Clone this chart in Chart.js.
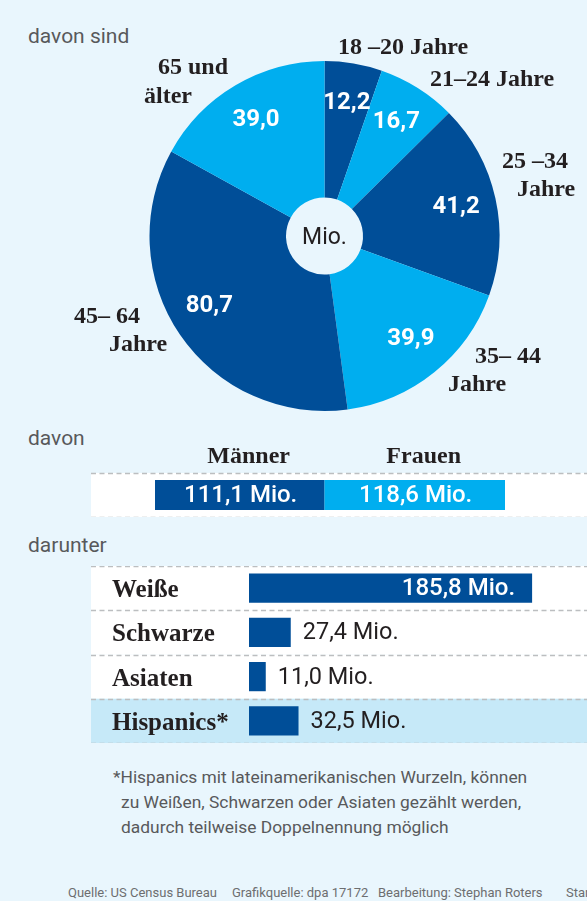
<!DOCTYPE html>
<html lang="de">
<head>
<meta charset="utf-8">
<title>US-Bevölkerung ab 18 Jahren</title>
<script src="https://cdn.jsdelivr.net/npm/chart.js@4.4.1/dist/chart.umd.min.js"></script>
<style>
  html, body { margin: 0; padding: 0; overflow: hidden; }
  body { width: 587px; height: 901px; background: #e9f6fd; position: relative; font-family: Roboto, sans-serif; }
  canvas { position: absolute; }
  .txt { position: absolute; white-space: nowrap; line-height: 1; color: #58595b; }
  .head { font-size: 21px; left: 28px; }
  .note { left: 113px; top: 765px; font-size: 17.4px; line-height: 25px; }
  .note span { display: block; }
  .note span + span { margin-left: 8px; }
  .src { top: 886px; font-size: 13px; color: #6d6e70; }
</style>
</head>
<body>
<div class="txt head" style="top:26px">davon sind</div>
<div class="txt head" style="top:428px">davon</div>
<div class="txt head" style="top:535px">darunter</div>

<canvas id="ageChart" width="587" height="420" style="left:0;top:0;width:587px;height:420px"></canvas>
<canvas id="genderChart" width="496" height="77" style="left:91px;top:440px;width:496px;height:77px"></canvas>
<canvas id="groupChart" width="508" height="177" style="left:91px;top:566px;width:508px;height:177px"></canvas>

<div class="txt note">
  <span>*Hispanics mit lateinamerikanischen Wurzeln, können</span>
  <span>zu Weißen, Schwarzen oder Asiaten gezählt werden,</span>
  <span>dadurch teilweise Doppelnennung möglich</span>
</div>
<div class="txt src" style="left:68px">Quelle: US Census Bureau</div>
<div class="txt src" style="left:232px">Grafikquelle: dpa 17172</div>
<div class="txt src" style="left:378px">Bearbeitung: Stephan Roters</div>
<div class="txt src" style="left:566px">Stand</div>

<script>
// Altersgruppen (Mio.), im Uhrzeigersinn ab 12 Uhr
const ageGroups = ['18 –20 Jahre', '21–24 Jahre', '25 –34\nJahre', '35– 44\nJahre', '45– 64\nJahre', '65 und\nälter'];
const ageValues = [12.2, 16.7, 41.2, 39.9, 80.7, 39.0];

// Geschlecht (Mio.)
const genderLabels = ['Männer', 'Frauen'];
const genderValues = [111.1, 118.6];

// Bevölkerungsgruppen (Mio.)
const groupLabels = ['Weiße', 'Schwarze', 'Asiaten', 'Hispanics*'];
const groupValues = [185.8, 27.4, 11.0, 32.5];

const DARK = '#004e98';
const LIGHT = '#00aeef';
const INK = '#231f20';
const SERIF = 'bold 24px "Liberation Serif", serif';

// where the outer age labels sit (per line: x, baseline)
const ageLabelPos = [
    [[338, 54]],
    [[430, 86]],
    [[502, 168], [517, 196]],
    [[475, 363], [448, 391]],
    [[74, 323], [109, 351]],
    [[158, 74], [144, 103]]
];
const valueAngleShift = [0, 0, 0, -1, 3, 0];

const fmt = v => v.toFixed(1).replace('.', ',');
const total = genderValues.reduce((a, b) => a + b, 0);

Chart.defaults.font.family = 'Roboto, sans-serif';

const pieLabels = {
    id: 'pieLabels',
    afterDatasetsDraw(chart) {
        const ctx = chart.ctx;
        const arcs = chart.getDatasetMeta(0).data;
        let cx = 0, cy = 0;
        ctx.save();
        arcs.forEach((arc, i) => {
            const p = arc.getProps(['x', 'y', 'startAngle', 'endAngle', 'outerRadius']);
            cx = p.x; cy = p.y;
            const mid = (p.startAngle + p.endAngle) / 2 + valueAngleShift[i] * Math.PI / 180;
            const r = p.outerRadius * 0.77;
            ctx.font = 'bold 24px Roboto';
            ctx.fillStyle = '#ffffff';
            ctx.textAlign = 'center';
            ctx.textBaseline = 'middle';
            ctx.fillText(fmt(ageValues[i]), p.x + Math.cos(mid) * r, p.y + Math.sin(mid) * r);

            ctx.font = SERIF;
            ctx.fillStyle = INK;
            ctx.textAlign = 'left';
            ctx.textBaseline = 'alphabetic';
            ageGroups[i].split('\n').forEach((line, k) => {
                ctx.fillText(line, ageLabelPos[i][k][0], ageLabelPos[i][k][1]);
            });
        });
        ctx.font = '23px Roboto';
        ctx.fillStyle = INK;
        ctx.textAlign = 'center';
        ctx.textBaseline = 'middle';
        ctx.fillText('Mio.', cx, cy + 2);
        ctx.restore();
    }
};

// white / tinted row bands with dashed separators
function bandPlugin(rowColors) {
    return {
        id: 'bands',
        beforeDatasetsDraw(chart) {
            const ctx = chart.ctx;
            const area = chart.chartArea;
            const n = chart.data.labels.length;
            const h = (area.bottom - area.top) / n;
            ctx.save();
            for (let i = 0; i < n; i++) {
                ctx.fillStyle = rowColors[i];
                ctx.fillRect(0, area.top + i * h, chart.width, h);
            }
            ctx.strokeStyle = '#bcbec0';
            ctx.lineWidth = 1.5;
            ctx.setLineDash([5, 3.5]);
            for (let i = 0; i <= n; i++) {
                const y = Math.round(area.top + i * h) + 0.5;
                ctx.beginPath();
                ctx.moveTo(0, y);
                ctx.lineTo(chart.width, y);
                ctx.stroke();
            }
            ctx.restore();
        }
    };
}

const genderText = {
    id: 'genderText',
    afterDatasetsDraw(chart) {
        const ctx = chart.ctx;
        ctx.save();
        chart.data.datasets.forEach((ds, i) => {
            const bar = chart.getDatasetMeta(i).data[0];
            const p = bar.getProps(['x', 'y', 'base']);
            const mid = (p.x + p.base) / 2;
            ctx.textAlign = 'center';
            ctx.font = '500 24px Roboto';
            ctx.fillStyle = '#ffffff';
            ctx.textBaseline = 'middle';
            ctx.fillText(fmt(ds.data[0]) + ' Mio.', mid + 1, p.y + 1);
            ctx.font = SERIF;
            ctx.fillStyle = INK;
            ctx.textBaseline = 'alphabetic';
            ctx.fillText(ds.label, mid + 9, 23);
        });
        ctx.restore();
    }
};

const groupText = {
    id: 'groupText',
    afterDatasetsDraw(chart) {
        const ctx = chart.ctx;
        const bars = chart.getDatasetMeta(0).data;
        ctx.save();
        bars.forEach((bar, i) => {
            const p = bar.getProps(['x', 'y', 'base']);
            ctx.font = 'bold 25px "Liberation Serif", serif';
            ctx.fillStyle = INK;
            ctx.textAlign = 'left';
            ctx.textBaseline = 'alphabetic';
            ctx.fillText(chart.data.labels[i], 21, p.y + 9);

            const txt = fmt(groupValues[i]) + ' Mio.';
            ctx.textBaseline = 'middle';
            ctx.font = '500 24px Roboto';
            const w = ctx.measureText(txt).width;
            if (p.x - p.base > w + 30) {
                ctx.fillStyle = '#ffffff';
                ctx.textAlign = 'right';
                ctx.fillText(txt, p.x - 17, p.y + 1);
            } else {
                ctx.font = '23.5px Roboto';
                ctx.fillStyle = INK;
                ctx.textAlign = 'left';
                ctx.fillText(txt, p.x + 12, p.y + 1);
            }
        });
        ctx.restore();
    }
};

const quiet = { legend: { display: false }, tooltip: { enabled: false } };

new Chart(document.getElementById('ageChart'), {
    type: 'doughnut',
    data: {
        labels: ageGroups,
        datasets: [{
            data: ageValues,
            backgroundColor: [DARK, LIGHT, DARK, LIGHT, DARK, LIGHT],
            borderWidth: 0,
            hoverOffset: 0
        }]
    },
    options: {
        responsive: false,
        animation: false,
        cutout: '22%',
        layout: { padding: { top: 61, left: 149.5, right: 87.5, bottom: 9 } },
        events: [],
        plugins: quiet
    },
    plugins: [pieLabels]
});

new Chart(document.getElementById('genderChart'), {
    type: 'bar',
    data: {
        labels: ['gesamt'],
        datasets: genderLabels.map((label, i) => ({
            label,
            data: [genderValues[i]],
            backgroundColor: [DARK, LIGHT][i],
            borderWidth: 0,
            barPercentage: 0.68,
            categoryPercentage: 1
        }))
    },
    options: {
        indexAxis: 'y',
        responsive: false,
        animation: false,
        events: [],
        layout: { padding: { top: 33, left: 64, right: 82, bottom: 0 } },
        scales: {
            x: { stacked: true, display: false, min: 0, max: total },
            y: { stacked: true, display: false }
        },
        plugins: quiet
    },
    plugins: [bandPlugin(['#ffffff']), genderText]
});

new Chart(document.getElementById('groupChart'), {
    type: 'bar',
    data: {
        labels: groupLabels,
        datasets: [{
            data: groupValues,
            backgroundColor: DARK,
            borderWidth: 0,
            barPercentage: 0.66,
            categoryPercentage: 1
        }]
    },
    options: {
        indexAxis: 'y',
        responsive: false,
        animation: false,
        events: [],
        layout: { padding: { top: 0, left: 158, right: 0, bottom: 0 } },
        scales: {
            x: { display: false, min: 0, max: total },
            y: { display: false }
        },
        plugins: quiet
    },
    plugins: [bandPlugin(['#ffffff', '#ffffff', '#ffffff', '#c6e9f8']), groupText]
});
</script>
</body>
</html>
